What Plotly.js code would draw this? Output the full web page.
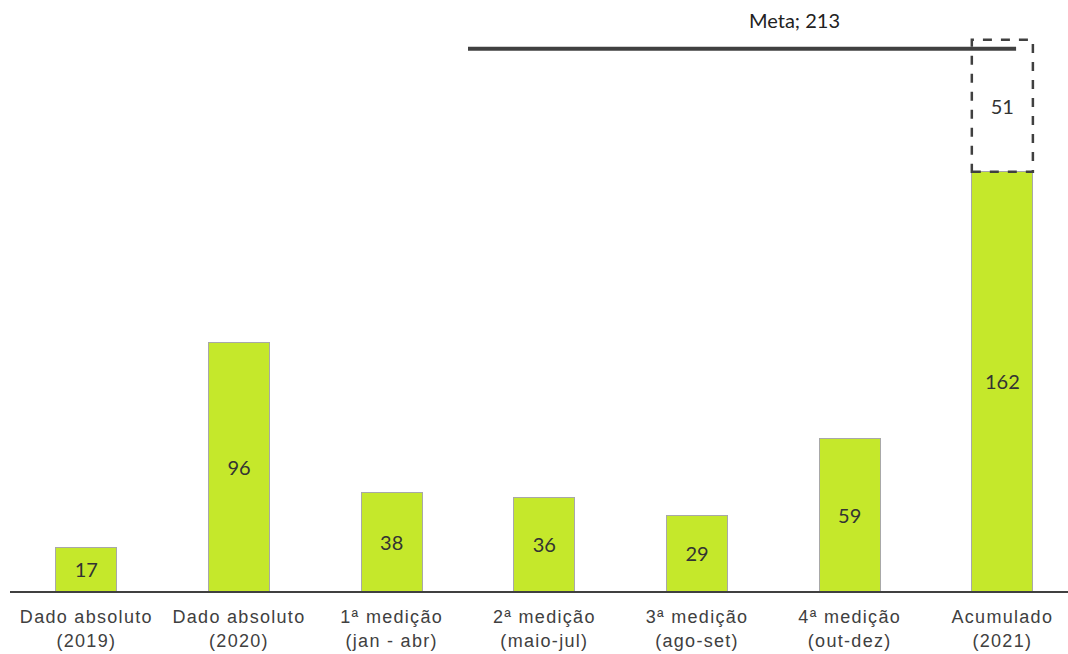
<!DOCTYPE html>
<html>
<head>
<meta charset="utf-8">
<script src="https://cdn.plot.ly/plotly-3.0.1.min.js"></script>
<style>
html,body{margin:0;padding:0;background:#fff;}
#chart{width:1068px;height:654px;}
#chart .xtick text{letter-spacing:1.3px;}
</style>
</head>
<body>
<div id="chart"></div>
<script>
const categories = ["Dado absoluto<br>(2019)", "Dado absoluto<br>(2020)", "1ª medição<br>(jan - abr)", "2ª medição<br>(maio-jul)", "3ª medição<br>(ago-set)", "4ª medição<br>(out-dez)", "Acumulado<br>(2021)"];
const values = [17, 96, 38, 36, 29, 59, 162];
const remaining = [null, null, null, null, null, null, 51];
const metaValue = 213;
const metaLabel = "Meta; 213";

const green = "#c5e82b";
const dark = "#404040";
const barWidth = 0.4;
const lastIdx = categories.length - 1;
const labelFont = {family: "Lato, 'Noto Sans', sans-serif", size: 20, color: "#333"};

const traces = [
  {
    type: "bar", x: categories, y: values, width: barWidth,
    marker: {color: green, line: {color: "#a8a8a8", width: 1}},
    text: values.map(String), textposition: "inside", insidetextanchor: "middle",
    textfont: labelFont, hoverinfo: "none"
  },
  {
    type: "bar", x: categories, y: remaining, width: barWidth,
    marker: {color: "rgba(255,255,255,0)", line: {width: 0}},
    text: remaining.map(v => v == null ? "" : String(v)), textposition: "inside", insidetextanchor: "middle",
    textfont: labelFont, hoverinfo: "none"
  }
];

const layout = {
  width: 1068, height: 654,
  margin: {l: 10, r: 0, t: 0, b: 63},
  paper_bgcolor: "#fff", plot_bgcolor: "#fff",
  barmode: "stack",
  showlegend: false,
  xaxis: {
    type: "category", range: [-0.5, 6.43],
    showline: true, linecolor: dark, linewidth: 1.5,
    showgrid: false, zeroline: false, ticks: "", ticklabelstandoff: 9,
    tickfont: {family: "Liberation Sans, Arial, sans-serif", size: 18, color: dark}
  },
  yaxis: {range: [0, 228.4], visible: false, showgrid: false, zeroline: false},
  shapes: [
    {type: "rect", xref: "x", yref: "y", x0: lastIdx - barWidth / 2, x1: lastIdx + barWidth / 2,
     y0: values[lastIdx], y1: metaValue, line: {color: dark, width: 2.5, dash: "dash"}, fillcolor: "rgba(0,0,0,0)"},
    {type: "line", xref: "x", yref: "y", x0: 2.5, x1: 6.09, ysizemode: "pixel", yanchor: metaValue, y0: -9, y1: -9,
     line: {color: dark, width: 4}}
  ],
  annotations: [
    {text: metaLabel, xref: "x", yref: "y", x: 4.64, y: metaValue, yshift: 20, showarrow: false,
     font: {family: "Lato, 'Noto Sans', sans-serif", size: 20, color: "#222"}}
  ]
};

Plotly.newPlot("chart", traces, layout, {displayModeBar: false, staticPlot: true});
</script>
</body>
</html>
